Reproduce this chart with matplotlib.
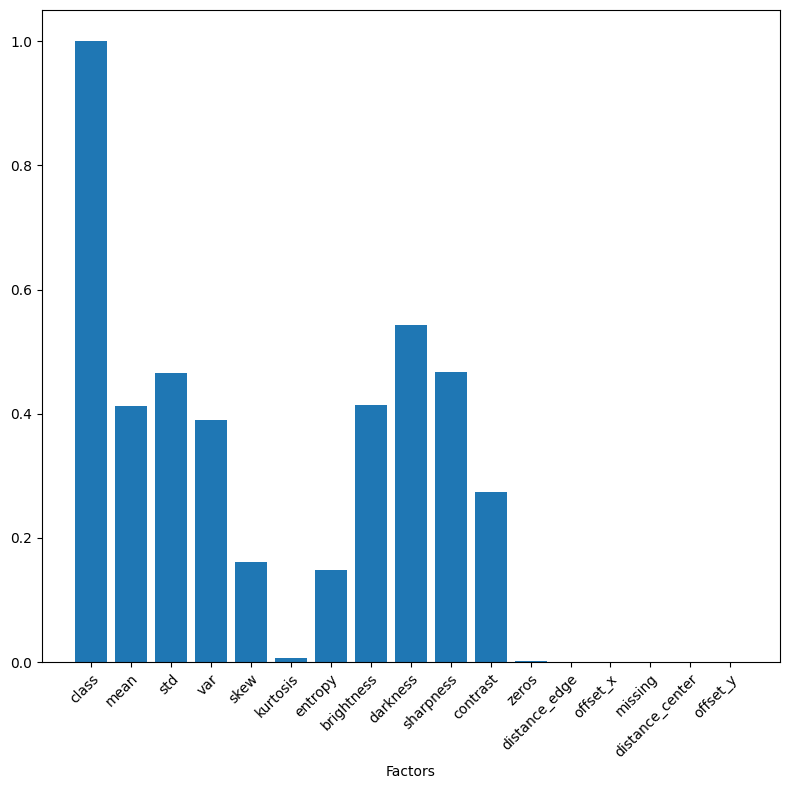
import matplotlib
matplotlib.use("Agg")
import matplotlib.pyplot as plt

factors = ["class", "mean", "std", "var", "skew", "kurtosis", "entropy",
           "brightness", "darkness", "sharpness", "contrast", "zeros",
           "distance_edge", "offset_x", "missing", "distance_center", "offset_y"]
importance = [1.0, 0.412, 0.465, 0.390, 0.161, 0.006, 0.148,
              0.414, 0.543, 0.467, 0.274, 0.002,
              0.0, 0.0, 0.0, 0.0, 0.0]

fig, ax = plt.subplots(figsize=(7.9, 7.9), dpi=100)
ax.bar(factors, importance)
ax.set_xlabel("Factors")
plt.setp(ax.get_xticklabels(), rotation=45, ha="right", rotation_mode="anchor")
fig.subplots_adjust(left=0.053, right=0.987, top=0.987, bottom=0.162)
fig.savefig("out.png", dpi=100)
